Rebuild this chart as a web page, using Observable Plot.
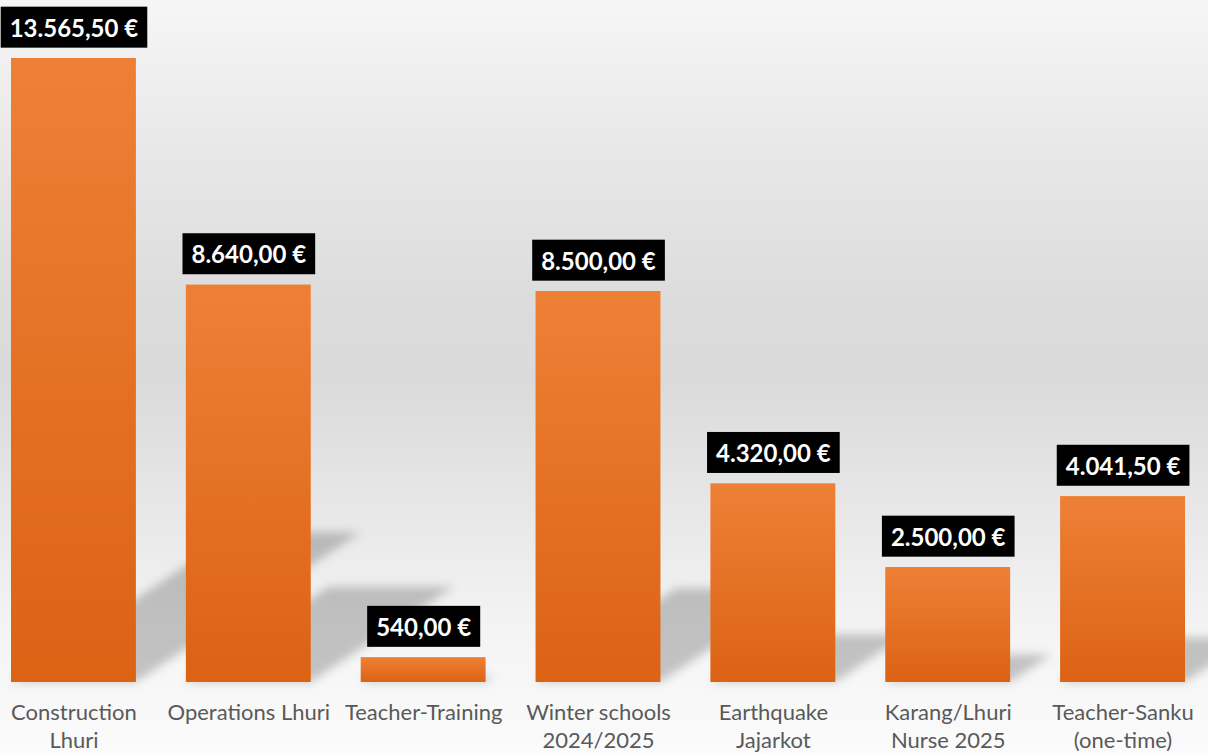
<!DOCTYPE html>
<html><head><meta charset="utf-8">
<script src="https://cdn.jsdelivr.net/npm/d3@7"></script>
<script src="https://cdn.jsdelivr.net/npm/@observablehq/plot@0.6"></script>
<style>
html,body{margin:0;padding:0;}
body{width:1208px;height:753px;overflow:hidden;background:linear-gradient(to bottom,#f6f6f6 0%,#e9e9e9 18%,#dcdcdc 40%,#dadada 50%,#e6e6e6 66%,#f4f4f4 84%,#fbfbfb 100%);}
#chart svg{display:block;}
</style></head><body><div id="chart"></div>
<script>
const categories = ["Construction\nLhuri","Operations Lhuri","Teacher-Training","Winter schools\n2024/2025","Earthquake\nJajarkot","Karang/Lhuri\nNurse 2025","Teacher-Sanku\n(one-time)"];
const amounts = [13565.5, 8640, 540, 8500, 4320, 2500, 4041.5];
const valueLabels = ["13.565,50 €","8.640,00 €","540,00 €","8.500,00 €","4.320,00 €","2.500,00 €","4.041,50 €"];
const data = categories.map((c,i)=>({category:c, amount:amounts[i], label:valueLabels[i]}));

const defs = () => {
  const d = d3.create("svg:defs");
  const g = d.append("linearGradient").attr("id","barGrad").attr("x1",0).attr("y1",0).attr("x2",0).attr("y2",1);
  g.append("stop").attr("offset","0%").attr("stop-color","#ee8036");
  g.append("stop").attr("offset","100%").attr("stop-color","#dc6214");
  const f = d.append("filter").attr("id","shadowBlur").attr("x","-30%").attr("y","-30%").attr("width","160%").attr("height","160%");
  f.append("feGaussianBlur").attr("stdDeviation",5);
  return d.node();
};

const plot = Plot.plot({
  width:1208, height:753,
  marginLeft:11, marginRight:23, marginTop:38, marginBottom:71,
  style:{background:"transparent", fontFamily:"Lato, sans-serif"},
  x:{domain:categories, paddingInner:0.2857, paddingOuter:0, round:false},
  y:{domain:[0,14000], axis:null},
  marks:[
    defs,
    Plot.barY(data,{x:"category", y:"amount", fill:"url(#barGrad)"}),
    Plot.text(data,{x:"category", y:"amount", text:"label", dy:-29.5, fill:"white", fontWeight:"bold", fontSize:24}),
    Plot.axisX({tickSize:0, tickPadding:17, fontSize:22, color:"#595959", lineHeight:1.3, label:null})
  ]
});
document.getElementById("chart").append(plot);

// shadows derived from rendered bars
const barsG = plot.querySelector('g[aria-label="bar"]');
if (barsG) {
  const sh = d3.create("svg:g").attr("filter","url(#shadowBlur)").attr("fill","#000").attr("fill-opacity",0.21);
  barsG.querySelectorAll("rect").forEach(r => {
    const x0=+r.getAttribute("x"), w=+r.getAttribute("width"), y=+r.getAttribute("y"), h=+r.getAttribute("height");
    const b=y+h, x1=x0+w, dx=0.36*h, dy=0.24*h;
    sh.append("polygon").attr("points",[[x0,b],[x1,b],[x1+dx,b-dy],[x0+dx,b-dy]].map(p=>p.join(",")).join(" "));
  });
  barsG.parentNode.insertBefore(sh.node(), barsG);
}
// black boxes behind value labels
const lg = plot.querySelector('g[aria-label="text"]');
if (lg) {
  lg.querySelectorAll("text").forEach(t => {
    const bb = t.getBBox();
    const r = document.createElementNS("http://www.w3.org/2000/svg","rect");
    r.setAttribute("x", bb.x - 9);
    r.setAttribute("y", bb.y + bb.height/2 - 20.5);
    r.setAttribute("width", bb.width + 18);
    r.setAttribute("height", 41);
    r.setAttribute("fill", "#000");
    r.setAttribute("stroke", "none");
    if (t.getAttribute("transform")) r.setAttribute("transform", t.getAttribute("transform"));
    t.parentNode.insertBefore(r, t);
  });
}
</script></body></html>
